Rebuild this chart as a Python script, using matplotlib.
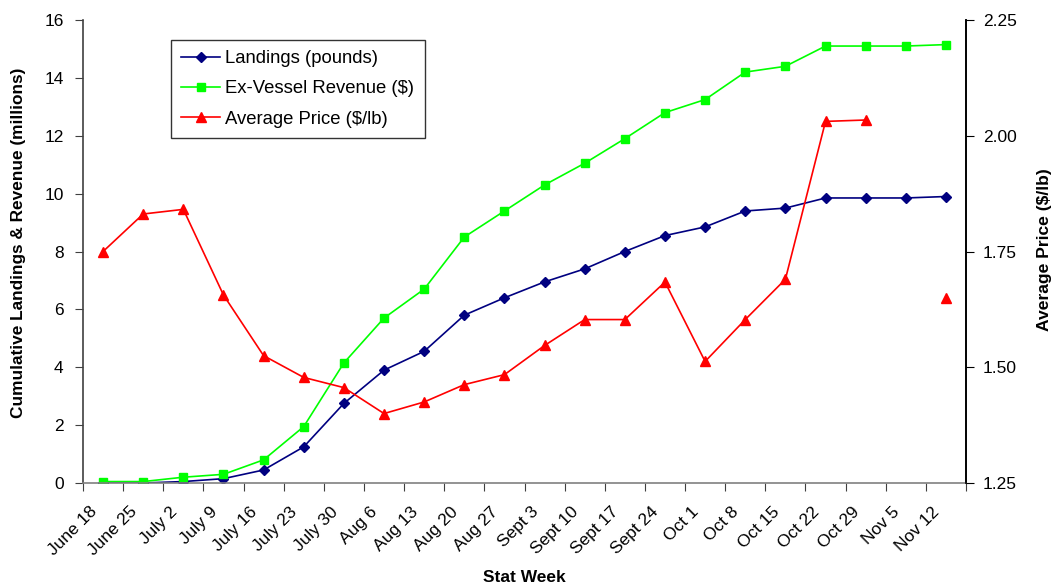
import numpy as np
import matplotlib
matplotlib.use("Agg")
import matplotlib.pyplot as plt
import matplotlib.transforms as mtransforms
from matplotlib.ticker import FixedLocator, NullFormatter

plt.rcParams['font.family'] = ['Liberation Sans', 'DejaVu Sans']

weeks = ["June 18", "June 25", "July 2", "July 9", "July 16", "July 23", "July 30",
         "Aug 6", "Aug 13", "Aug 20", "Aug 27", "Sept 3", "Sept 10", "Sept 17",
         "Sept 24", "Oct 1", "Oct 8", "Oct 15", "Oct 22", "Oct 29", "Nov 5", "Nov 12"]
landings = [0.0, 0.0, 0.05, 0.15, 0.45, 1.25, 2.75, 3.9, 4.55, 5.8, 6.4, 6.95,
            7.4, 8.0, 8.55, 8.85, 9.4, 9.5, 9.85, 9.85, 9.85, 9.9]
revenue = [0.05, 0.05, 0.2, 0.3, 0.8, 1.95, 4.15, 5.7, 6.7, 8.5, 9.4, 10.3,
           11.05, 11.9, 12.8, 13.25, 14.2, 14.4, 15.1, 15.1, 15.1, 15.15]
price = [1.75, 1.831, 1.841, 1.656, 1.525, 1.478, 1.456, 1.40, 1.425, 1.4625,
         1.484, 1.547, 1.603, 1.603, 1.684, 1.5125, 1.603, 1.69, 2.031, 2.034,
         np.nan, 1.65]

W, H = 1053, 585
fig = plt.figure(figsize=(W/100, H/100), dpi=100)
ax = fig.add_axes([83/W, 1 - 483/H, (966 - 83)/W, (483 - 20)/H])
ax2 = ax.twinx()

x = np.arange(len(weeks))
l1, = ax.plot(x, landings, color='#000080', marker='D', markersize=5.5, lw=1.2,
              label='Landings (pounds)')
l2, = ax.plot(x, revenue, color='#00FF00', marker='s', markersize=6, lw=1.2,
              label='Ex-Vessel Revenue ($)')
l3, = ax2.plot(x, price, color='#FF0000', marker='^', markersize=7.5, lw=1.2,
               label='Average Price ($/lb)')

ax.set_xlim(-0.5, len(weeks) - 0.5)
ax.set_ylim(0, 16)
ax.set_yticks(np.arange(0, 17, 2))
ax2.set_ylim(1.25, 2.25)
ax2.set_yticks([1.25, 1.5, 1.75, 2.0, 2.25])
ax2.set_yticklabels(['1.25', '1.50', '1.75', '2.00', '2.25'])

# x ticks: marks at boundaries, labels at centers
ax.xaxis.set_major_locator(FixedLocator(np.arange(-0.5, len(weeks), 1.0)))
ax.xaxis.set_major_formatter(NullFormatter())
ax.set_xticks(x, minor=True)
ax.set_xticklabels(weeks, minor=True, rotation=45, ha='right',
                   rotation_mode='anchor', fontsize=12.5)
ax.tick_params(axis='x', which='minor', length=0, pad=8)
ax.tick_params(axis='x', which='major', length=6, direction='out', color='#404040')
ax.tick_params(axis='y', length=6, direction='out', labelsize=12.5, color='#404040', pad=8)
ax2.tick_params(axis='y', length=6, direction='out', labelsize=12.5, pad=6)

offset = mtransforms.ScaledTranslation(-14/100, -10/100, fig.dpi_scale_trans)
for lab in ax.xaxis.get_minorticklabels():
    lab.set_transform(lab.get_transform() + offset)

for a in (ax, ax2):
    a.spines['top'].set_visible(False)
ax.spines['left'].set_color('#404040')
ax.spines['bottom'].set_color('#808080')
ax2.spines['left'].set_visible(False)
ax2.spines['bottom'].set_visible(False)
ax2.spines['right'].set_color('black')
for s in ('left', 'bottom', 'right'):
    ax.spines[s].set_linewidth(1.2)
    ax2.spines[s].set_linewidth(1.2)

ax.set_ylabel('Cumulative Landings & Revenue (millions)', fontsize=12.4,
              fontweight='bold')
ax2.set_ylabel('Average Price ($/lb)', fontsize=12.6, fontweight='bold')
ax.set_xlabel('Stat Week', fontsize=12.5, fontweight='bold')

ax.yaxis.set_label_coords(19/W, 1 - 243/H, transform=fig.transFigure)
ax2.yaxis.set_label_coords(1044/W, 1 - 250/H, transform=fig.transFigure)
ax.xaxis.set_label_coords(524/W, 1 - 577/H, transform=fig.transFigure)
for lab in (ax.yaxis.label, ax2.yaxis.label, ax.xaxis.label):
    lab.set_va('center')
    lab.set_ha('center')

leg = ax.legend(handles=[l1, l2, l3], loc='upper left',
                bbox_to_anchor=((171 - 83)/883, 1 - (40 - 20)/463),
                fontsize=13.3, frameon=True, fancybox=False, edgecolor='black',
                borderpad=0.55, labelspacing=0.72, handlelength=2.1,
                handletextpad=0.3, borderaxespad=0)
leg.get_frame().set_linewidth(1.0)

fig.savefig('out.png', dpi=100)
